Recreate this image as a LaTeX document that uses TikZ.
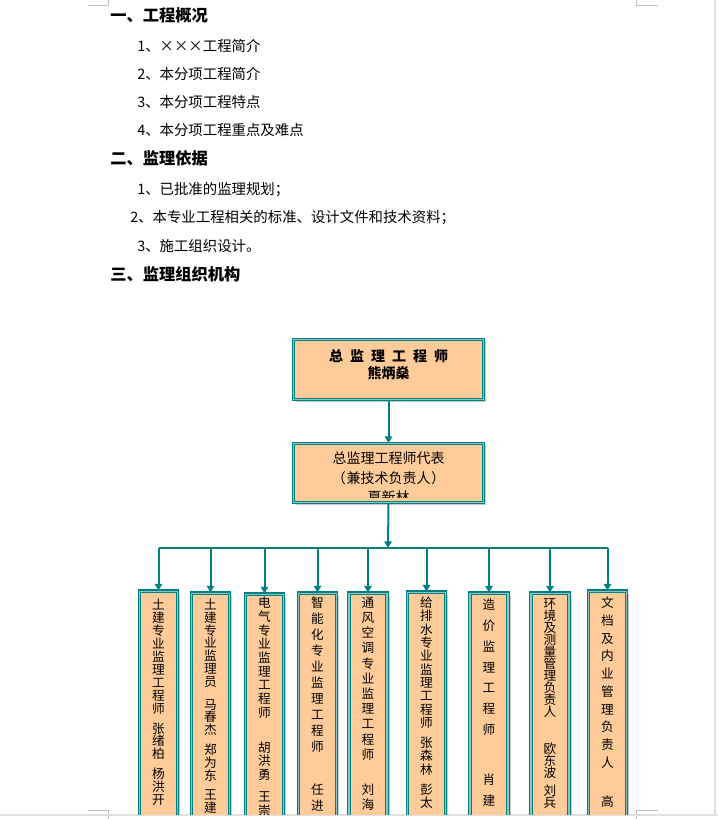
\documentclass[tikz,border=0pt]{standalone}
\usepackage{fontspec}
\setmainfont{Noto Sans CJK SC}
\definecolor{peach}{RGB}{255,204,153}
\definecolor{darkteal}{RGB}{0,128,128}
\definecolor{lightteal}{RGB}{140,195,195}
\definecolor{pagegray}{RGB}{190,190,190}
\usetikzlibrary{arrows.meta,positioning,shadows}
\newcommand\vfont[1]{\fontsize{9.5pt}{#1}\selectfont\lineskiplimit=-20pt\lineskip=0pt}
\newcommand\bigx{\makebox[1em]{×}}
\tikzset{
  heading/.style={anchor=west, inner sep=0pt, font=\fontsize{12.2pt}{14pt}\selectfont\bfseries},
  item/.style={anchor=west, inner sep=0pt, font=\fontsize{10.8pt}{13pt}\selectfont},
  orgbox/.style={draw=darkteal, line width=0.8pt, double=lightteal, double distance=0.8pt,
    fill=peach, inner sep=0pt, drop shadow={shadow xshift=2pt, shadow yshift=-2pt, fill=black!40}},
  tallbox/.style={orgbox, anchor=north, minimum width=28.5pt, minimum height=180pt},
  vtext/.style={anchor=north, inner sep=0pt, align=center},
  link/.style={draw=darkteal, line width=1.5pt},
  arrow/.style={link, -{Triangle[width=5.5pt,length=5pt]}},
  cropline/.style={draw=pagegray, line width=0.75pt}
}

\begin{document}
\begin{tikzpicture}[x=0.75pt, y=-0.75pt]
  \useasboundingbox (0,0) rectangle (718,819);

  \draw[cropline] (88,5) -- (108,5) -- (108,0);
  \draw[cropline] (658,5) -- (636,5) -- (636,0);
  \draw[cropline] (88,810) -- (108,810) -- (108,819);
  \draw[cropline] (658,810) -- (636,810) -- (636,819);
  \draw[black!12, line width=1.5pt] (0,815) -- (718,815);
  \draw[black!12, line width=1.5pt] (715,0) -- (715,815);

  \node[heading] (sec1) at (110,15) {一、工程概况};
  \node[item] (sec1a) at (137,46) {1、\bigx\bigx\bigx 工程简介};
  \node[item] (sec1b) at (137,74) {2、本分项工程简介};
  \node[item] (sec1c) at (137,102) {3、本分项工程特点};
  \node[item] (sec1d) at (137,130) {4、本分项工程重点及难点};
  \node[heading] (sec2) at (110,158) {二、监理依据};
  \node[item] (sec2a) at (137,190) {1、已批准的监理规划；};
  \node[item] (sec2b) at (130,218) {2、本专业工程相关的标准、设计文件和技术资料；};
  \node[item] (sec2c) at (137,246) {3、施工组织设计。};
  \node[heading] (sec3) at (110,274) {三、监理组织机构};

  \node[orgbox, minimum width=142.5pt, minimum height=45pt] (chief) at (388.5,369.5) {};
  \node[inner sep=0pt, align=center, font=\fontsize{10.5pt}{12.75pt}\selectfont\bfseries] (chieftxt)
    at (chief.center) [yshift=3.5pt] {总\enspace 监\enspace 理\enspace 工\enspace 程\enspace 师\\熊炳燊};

  \node[orgbox, minimum width=142.5pt, minimum height=44.25pt] (deputy) at (388.5,473) {};
  \begin{scope}
    \clip ([shift={(2pt,-2pt)}]deputy.north west) rectangle ([shift={(-2pt,4pt)}]deputy.south east);
    \node[inner sep=0pt, align=center, font=\fontsize{10.5pt}{14.6pt}\selectfont] (deputytxt)
      at (388.5,478) {总监理工程师代表\\\makebox[1.1em][c]{（}兼技术负责人\makebox[1.1em][c]{）}\\夏新林};
  \end{scope}

  \coordinate (busmid) at (388,548);
  \draw[arrow] (chief.south) -- (deputy.north);
  \draw[arrow] (deputy.south) -- (busmid);

  \begin{scope}
    \clip (0,0) rectangle (718,814);
    \node[tallbox] (b1) at (158.5,590.5) {};
    \node[tallbox] (b2) at (210.5,592.5) {};
    \node[tallbox] (b3) at (264.5,593.5) {};
    \node[tallbox] (b4) at (317.5,592.5) {};
    \node[tallbox] (b5) at (368,592.5) {};
    \node[tallbox] (b6) at (426.5,591.5) {};
    \node[tallbox] (b7) at (489,592.5) {};
    \node[tallbox] (b8) at (550,592.5) {};
    \node[tallbox] (b9) at (607.5,590.5) {};

    \node[vtext, font=\vfont{9.7pt}] (t1) at (158.5,598.7)
      {土\\建\\专\\业\\监\\理\\工\\程\\师\\[5.3pt]张\\绪\\柏\\[5.3pt]杨\\洪\\开};
    \node[vtext, font=\vfont{9.6pt}] (t2) at (210.5,598.7)
      {土\\建\\专\\业\\监\\理\\员\\[7.5pt]马\\春\\杰\\[5.3pt]郑\\为\\东\\[5pt]王\\建};
    \node[vtext, font=\vfont{10.3pt}] (t3) at (264.5,596.7)
      {电\\气\\专\\业\\监\\理\\工\\程\\师\\[15.8pt]胡\\洪\\勇\\[6.4pt]王\\崇};
    \node[vtext, font=\vfont{12pt}] (t4) at (317.5,596.7)
      {智\\能\\化\\专\\业\\监\\理\\工\\程\\师\\[20pt]任\\进};
    \node[vtext, font=\vfont{11.4pt}] (t5) at (368,596.7)
      {通\\风\\空\\调\\专\\业\\监\\理\\工\\程\\师\\[15pt]刘\\海};
    \node[vtext, font=\vfont{10pt}] (t6) at (426.5,596.7)
      {给\\排\\水\\专\\业\\监\\理\\工\\程\\师\\[5pt]张\\森\\林\\[5pt]彭\\太};
    \node[vtext, font=\vfont{15.6pt}] (t7) at (489,598.7)
      {造\\价\\监\\理\\工\\程\\师\\[22pt]肖\\建};
    \node[vtext, font=\vfont{9pt}] (t8) at (550,598.7)
      {环\\境\\及\\测\\量\\管\\理\\负\\责\\人\\[18.75pt]欧\\东\\波\\[4.5pt]刘\\兵};
    \node[vtext, font=\vfont{13.3pt}] (t9) at (607.5,596.7)
      {文\\档\\及\\内\\业\\管\\理\\负\\责\\人\\[16pt]高};
  \end{scope}

  \draw[link] (b1.north |- busmid) -- (b9.north |- busmid);
  \draw[arrow] (b1.north |- busmid) -- (b1.north);
  \draw[arrow] (b2.north |- busmid) -- (b2.north);
  \draw[arrow] (b3.north |- busmid) -- (b3.north);
  \draw[arrow] (b4.north |- busmid) -- (b4.north);
  \draw[arrow] (b5.north |- busmid) -- (b5.north);
  \draw[arrow] (b6.north |- busmid) -- (b6.north);
  \draw[arrow] (b7.north |- busmid) -- (b7.north);
  \draw[arrow] (b8.north |- busmid) -- (b8.north);
  \draw[arrow] (b9.north |- busmid) -- (b9.north);
\end{tikzpicture}
\end{document}
